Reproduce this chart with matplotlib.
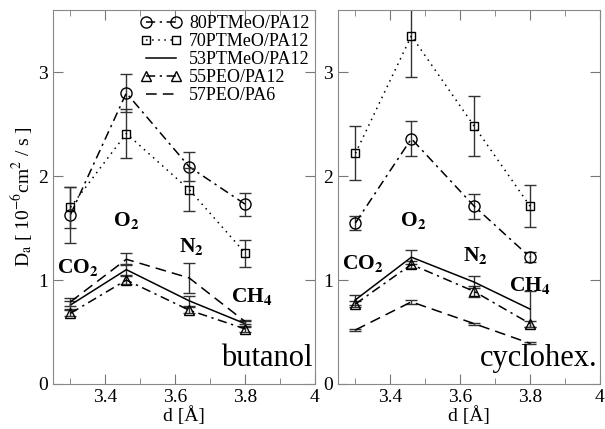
import matplotlib
matplotlib.use("Agg")
import matplotlib.pyplot as plt
from matplotlib.ticker import MultipleLocator, FormatStrFormatter

plt.rcParams['font.family'] = ['Liberation Serif', 'DejaVu Serif']
plt.rcParams['mathtext.fontset'] = 'stix'

# Gas kinetic diameters d [A]
gases = ['CO$_\\mathbf{2}$', 'O$_\\mathbf{2}$', 'N$_\\mathbf{2}$', 'CH$_\\mathbf{4}$']
d = [3.30, 3.46, 3.64, 3.80]

# butanol
but_80ptmeo = [1.63, 2.80, 2.09, 1.73]
but_80ptmeo_err = [0.27, 0.18, 0.14, 0.11]
but_70ptmeo = [1.70, 2.41, 1.87, 1.26]
but_70ptmeo_err = [0.20, 0.24, 0.21, 0.13]
but_53ptmeo = [0.76, 1.10, 0.80, 0.58]
but_53ptmeo_err = [0.04, 0.05, 0.05, 0.03]
but_55peo = [0.68, 1.00, 0.71, 0.53]
but_55peo_err = [0.03, 0.04, 0.03, 0.03]
but_57peo = [0.79, 1.20, 1.02, 0.60]
but_57peo_err = [0.04, 0.06, 0.14, 0.02]

# cyclohexane
cyc_80ptmeo = [1.55, 2.36, 1.71, 1.22]
cyc_80ptmeo_err = [0.07, 0.17, 0.12, 0.05]
cyc_70ptmeo = [2.22, 3.35, 2.48, 1.71]
cyc_70ptmeo_err = [0.26, 0.40, 0.29, 0.20]
cyc_53ptmeo = [0.81, 1.22, 0.98, 0.72]
cyc_53ptmeo_err = [0.05, 0.07, 0.06, 0.17]
cyc_55peo = [0.77, 1.15, 0.89, 0.58]
cyc_55peo_err = [0.03, 0.03, 0.05, 0.03]
cyc_57peo = [0.52, 0.79, 0.58, 0.39]
cyc_57peo_err = [0.01, 0.02, 0.01, 0.01]

labels = ['80PTMeO/PA12', '70PTMeO/PA12', '53PTMeO/PA12', '55PEO/PA12', '57PEO/PA6']

# gas label positions (x, y) per panel
but_gas_pos = [(3.32, 1.12), (3.46, 1.57), (3.647, 1.32), (3.82, 0.84)]
cyc_gas_pos = [(3.32, 1.16), (3.464, 1.57), (3.645, 1.24), (3.80, 0.95)]

styles = [
    dict(marker='o', ms=8, ls=(0, (6, 3, 1.5, 3)), mfc='none'),
    dict(marker='s', ms=6, ls=(0, (1, 3)), mfc='none'),
    dict(marker='', ls='-'),
    dict(marker='^', ms=6.5, ls=(0, (6, 3, 1.5, 3)), mfc='none'),
    dict(marker='', ls=(0, (7, 4))),
]


def draw_panel(ax, series, errors, gas_pos, solvent, legend=False):
    for y, e, st, lab in zip(series, errors, styles, labels):
        # Fehlerbalken separat, damit die Legende ohne Balken bleibt
        ax.errorbar(d, y, yerr=e, fmt='none', ecolor='#333333',
                    elinewidth=1, capsize=4, capthick=1)
        ax.plot(d, y, color='black', lw=1.1, mec='black', mew=1, label=lab, **st)
    for g, (x, y) in zip(gases, gas_pos):
        ax.text(x, y, g, ha='center', va='center', fontsize=15.5, fontweight='bold')
    ax.text(0.99, 0.03, solvent, transform=ax.transAxes, ha='right', va='bottom', fontsize=22)
    ax.set_xlim(3.25, 4.0)
    ax.set_ylim(0, 3.6)
    ax.xaxis.set_major_locator(MultipleLocator(0.2))
    ax.xaxis.set_minor_locator(MultipleLocator(0.1))
    ax.xaxis.set_major_formatter(FormatStrFormatter('%g'))
    ax.yaxis.set_major_locator(MultipleLocator(1))
    ax.tick_params(which='both', direction='in', top=True, right=True, color='#777777', labelsize=14)
    ax.tick_params(which='major', length=7)
    ax.tick_params(which='minor', length=4)
    for s in ax.spines.values():
        s.set_color('#888888')
    ax.set_xlabel('d [Å]', fontsize=14, labelpad=0)
    if legend:
        ax.legend(loc='upper right', frameon=False, numpoints=2, fontsize=13,
                  handlelength=2.3, handletextpad=0.4, labelspacing=0.05,
                  borderaxespad=0.2, borderpad=0.1)


fig = plt.figure(figsize=(6.05, 4.29), dpi=100)
ax1 = fig.add_axes([0.0876, 0.105, 0.433, 0.872])
ax2 = fig.add_axes([0.5587, 0.105, 0.433, 0.872])

draw_panel(ax1, [but_80ptmeo, but_70ptmeo, but_53ptmeo, but_55peo, but_57peo],
           [but_80ptmeo_err, but_70ptmeo_err, but_53ptmeo_err, but_55peo_err, but_57peo_err],
           but_gas_pos, 'butanol', legend=True)
draw_panel(ax2, [cyc_80ptmeo, cyc_70ptmeo, cyc_53ptmeo, cyc_55peo, cyc_57peo],
           [cyc_80ptmeo_err, cyc_70ptmeo_err, cyc_53ptmeo_err, cyc_55peo_err, cyc_57peo_err],
           cyc_gas_pos, 'cyclohex.')

ax1.set_ylabel('D$_\\mathrm{a}$ [ 10$^{-6}$cm$^2$ / s ]', fontsize=14, labelpad=2)

fig.savefig('out.png', dpi=100)
